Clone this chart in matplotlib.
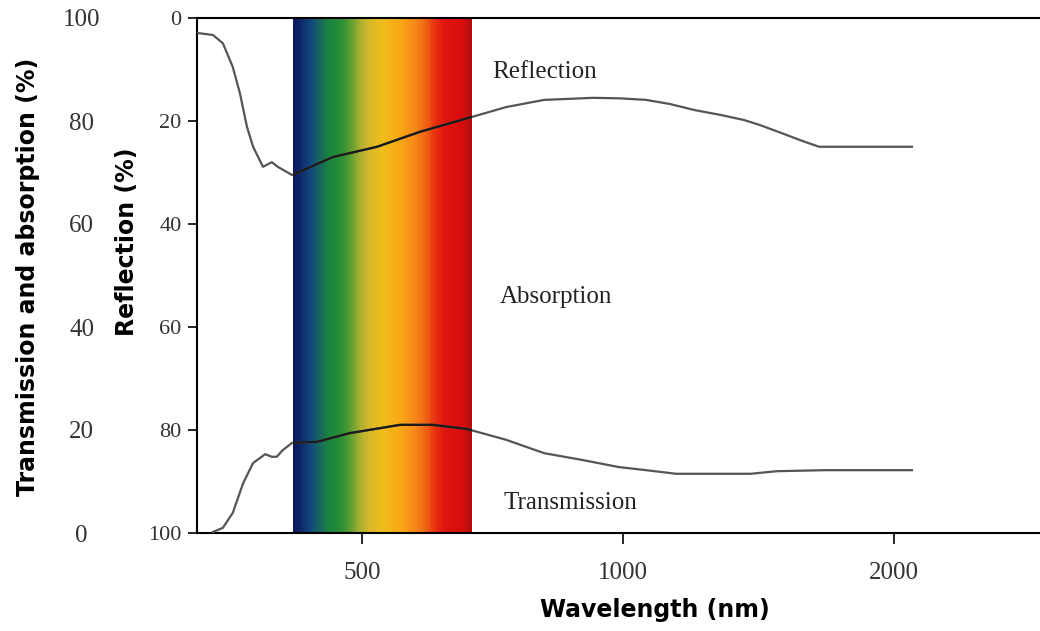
import numpy as np
import matplotlib
matplotlib.use("Agg")
import matplotlib.pyplot as plt
from matplotlib.colors import LinearSegmentedColormap
from matplotlib.patches import Rectangle

# wavelength (nm) / percent
refl_nm = [200, 229, 247, 265, 278, 291, 302, 320, 336, 347, 373, 447, 529, 611,
           711, 776, 849, 943, 994, 1085, 1173, 1266, 1358, 1446, 1506, 1583, 1653,
           1723, 1889, 2065]
refl_pct = [2.9, 3.3, 4.9, 9.5, 14.6, 21.2, 25.0, 28.9, 28.0, 28.9, 30.5, 27.0, 25.0,
            22.1, 19.2, 17.3, 15.9, 15.5, 15.6, 15.9, 16.7, 17.9, 18.8, 19.8, 20.8,
            22.3, 23.7, 25.0, 25.0, 25.0]

trans_nm = [229, 247, 265, 284, 302, 324, 336, 345, 356, 373, 418, 478, 573, 636,
            701, 776, 849, 921, 992, 1085, 1196, 1332, 1472, 1568, 1749, 2065]
trans_pct = [0.2, 1.0, 3.9, 9.7, 13.6, 15.3, 14.8, 14.8, 16.1, 17.5, 17.7, 19.4, 21.0,
             21.0, 20.2, 18.1, 15.5, 14.2, 12.8, 12.2, 11.5, 11.5, 11.5, 12.0, 12.2, 12.2]

visible_nm = (375, 710)
x_ticks = [500, 1000, 2000]
y_ticks = [0, 20, 40, 60, 80, 100]

# the wavelength axis is stretched differently in each segment
scale_nm = [0, 200, 500, 1000, 2000, 2530, 5000]
scale_u = [87, 197, 362, 623, 894, 1040, 1719]


def fwd(x):
    return np.interp(x, scale_nm, scale_u)


def inv(u):
    return np.interp(u, scale_u, scale_nm)


spectrum = LinearSegmentedColormap.from_list("spec", [
    (0.00, "#0a1858"), (0.045, "#0f2a6e"), (0.09, "#12487e"), (0.15, "#1a6a5a"),
    (0.19, "#1a8440"), (0.26, "#2a8e34"), (0.32, "#6aa032"), (0.36, "#a8b032"),
    (0.415, "#d8b828"), (0.49, "#f0bc1c"), (0.585, "#f8aa14"), (0.67, "#f88c18"),
    (0.74, "#f06414"), (0.795, "#e83010"), (0.85, "#e01410"), (0.955, "#d80c0c"),
    (1.00, "#b01010")])

fig = plt.figure(figsize=(10.4, 6.31), dpi=100)
ax = fig.add_axes([197 / 1040, 98 / 631, 843 / 1040, 515 / 631])
ax.set_xscale("function", functions=(fwd, inv))
ax.set_xlim(200, 2530)
ax.set_ylim(100, 0)

n = 200
edges = np.linspace(visible_nm[0], visible_nm[1], n + 1)
ax.pcolormesh(edges, [0, 100], np.linspace(0, 1, n)[None, :], cmap=spectrum,
              shading="flat", zorder=1)

ax2 = ax.twinx()
ax2.set_ylim(0, 100)

# gray curves, drawn darker where they cross the colour band
band = Rectangle((visible_nm[0], 0), visible_nm[1] - visible_nm[0], 100,
                 transform=ax.transData, visible=False)
ax.add_patch(band)
ax.plot(refl_nm, refl_pct, color="#555555", lw=1.6, zorder=3)
dark, = ax.plot(refl_nm, refl_pct, color="#1a1a1a", lw=1.6, zorder=4)
dark.set_clip_path(band)
ax2.plot(trans_nm, trans_pct, color="#555555", lw=1.6, zorder=3)
dark2, = ax2.plot(trans_nm, trans_pct, color="#1a1a1a", lw=1.6, zorder=4)
dark2.set_clip_path(band)

for s in ["left", "top", "bottom"]:
    ax.spines[s].set_linewidth(1.5)
    ax.spines[s].set_color("black")
ax.spines["right"].set_visible(False)
for s in ax2.spines.values():
    s.set_visible(False)

serif = "Liberation Serif"
ax.set_xticks(x_ticks, [str(v) for v in x_ticks], family=serif, fontsize=18, color="#333333")
ax.minorticks_off()
ax.tick_params(axis="x", direction="out", length=8, width=1.2, pad=13)
ax.set_yticks(y_ticks, [str(v) for v in y_ticks], family=serif, fontsize=16, color="#333333")
ax.tick_params(axis="y", direction="out", length=6.5, width=1.2, pad=4.5)

ax2.set_yticks(y_ticks, [str(v) for v in y_ticks], family=serif, fontsize=18,
               color="#333333", ha="center")
ax2.tick_params(axis="y", left=True, labelleft=True, right=False, labelright=False,
                length=0, pad=83)

ax.set_xlabel("Wavelength (nm)", fontsize=17, fontweight="bold", va="center")
ax.xaxis.set_label_coords((655 - 197) / 843, (533 - 610) / 515)
ax.set_ylabel("Reflection (%)", fontsize=17, fontweight="bold", va="center")
ax.yaxis.set_label_coords((127 - 197) / 843, (533 - 242) / 515)
ax2.yaxis.set_label_position("left")
ax2.set_ylabel("Transmission and absorption (%)", fontsize=17, fontweight="bold",
               va="center")
ax2.yaxis.set_label_coords((28 - 197) / 843, (533 - 277) / 515)

ax.text(749, 11.7, "Reflection", family=serif, fontsize=18, color="#222222", va="baseline")
ax.text(764, 55.3, "Absorption", family=serif, fontsize=18, color="#222222", va="baseline")
ax.text(771, 95.3, "Transmission", family=serif, fontsize=18, color="#222222", va="baseline")

fig.savefig("out.png", dpi=100)
